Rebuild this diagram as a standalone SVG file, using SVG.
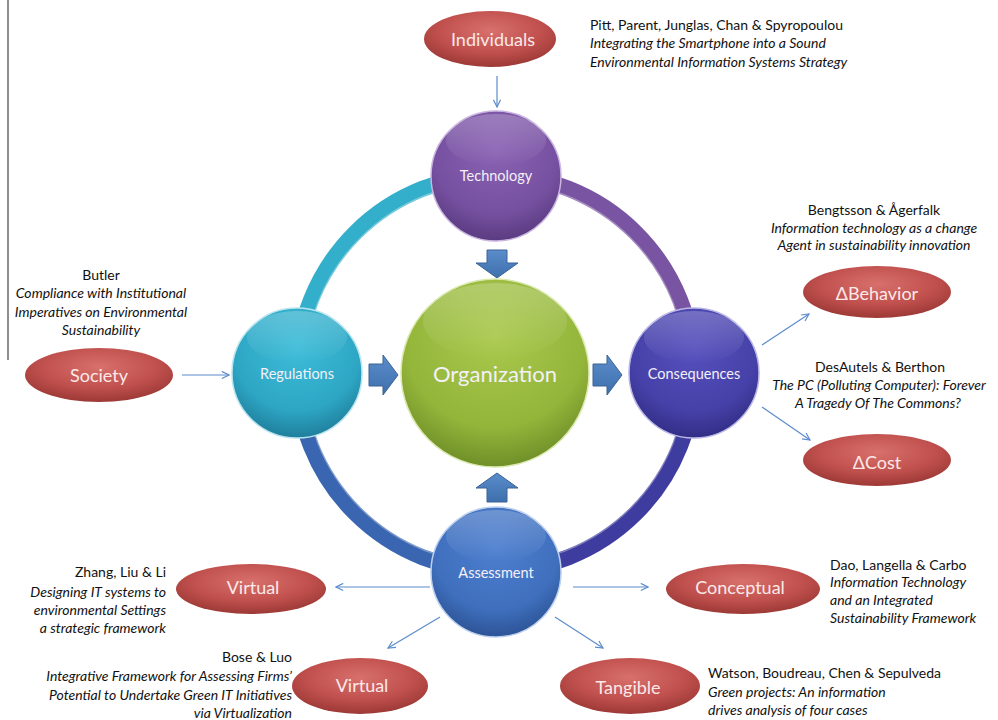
<svg xmlns="http://www.w3.org/2000/svg" width="998" height="720" viewBox="0 0 998 720">
<style>
.ref{font-family:Lato,"Open Sans","Liberation Sans",sans-serif;font-size:14px;fill:#111}
.ref .it{font-style:italic}
.lbl{font-family:Lato,"Open Sans","Liberation Sans",sans-serif;fill:#f4f0f8;text-anchor:middle;dominant-baseline:central}
.sm{font-size:14.5px}
.ov{font-size:18px;fill:#fbe9e9}
.conn line{stroke:#5b8ccb;stroke-width:1.2;fill:none;marker-end:url(#ah)}
.blk{fill:url(#gBlk);stroke:#3a6396;stroke-width:1}
.ring{fill:none;stroke-width:16}
</style>
<defs>
<marker id="ah" viewBox="0 0 10 10" refX="9" refY="5" markerWidth="9" markerHeight="9" orient="auto" markerUnits="userSpaceOnUse">
<path d="M1,1 L9,5 L1,9" fill="none" stroke="#5b8ccb" stroke-width="1.3"/>
</marker>
<radialGradient id="gRed" cx="50%" cy="35%" r="65%">
<stop offset="0" stop-color="#d8706c"/><stop offset="0.6" stop-color="#c0504d"/><stop offset="1" stop-color="#9c3936"/>
</radialGradient>
<radialGradient id="gPur" cx="50%" cy="30%" r="70%">
<stop offset="0" stop-color="#8a62b3"/><stop offset="0.7" stop-color="#7650a0"/><stop offset="1" stop-color="#5a3b80"/>
</radialGradient>
<radialGradient id="gCy" cx="50%" cy="30%" r="70%">
<stop offset="0" stop-color="#3cbcd8"/><stop offset="0.7" stop-color="#2da6c4"/><stop offset="1" stop-color="#1f7f9c"/>
</radialGradient>
<radialGradient id="gGr" cx="50%" cy="30%" r="70%">
<stop offset="0" stop-color="#a9c94c"/><stop offset="0.7" stop-color="#93b53a"/><stop offset="1" stop-color="#6f8f28"/>
</radialGradient>
<radialGradient id="gInd" cx="50%" cy="30%" r="70%">
<stop offset="0" stop-color="#5650bd"/><stop offset="0.7" stop-color="#4641a8"/><stop offset="1" stop-color="#322e86"/>
</radialGradient>
<radialGradient id="gBl" cx="50%" cy="30%" r="70%">
<stop offset="0" stop-color="#4d7fcf"/><stop offset="0.7" stop-color="#3f6fbd"/><stop offset="1" stop-color="#2d5496"/>
</radialGradient>
<linearGradient id="gBlk" x1="0" y1="0" x2="0" y2="1">
<stop offset="0" stop-color="#5a8ccb"/><stop offset="1" stop-color="#3f70ad"/>
</linearGradient>
<linearGradient id="gShine" x1="0" y1="0" x2="0" y2="1">
<stop offset="0" stop-color="#fff" stop-opacity="0.22"/><stop offset="1" stop-color="#fff" stop-opacity="0"/>
</linearGradient>
</defs>
<rect width="998" height="720" fill="#fff"/>
<line x1="8" y1="0" x2="8" y2="360" stroke="#444" stroke-width="1.2"/>

<g id="ring">
<path class="ring" stroke="#33afcb" d="M297,373 A198,198 0 0 1 495.5,175"/>
<path class="ring" stroke="#7954a2" d="M495.5,175 A198,198 0 0 1 694,373"/>
<path class="ring" stroke="#3f3c9f" d="M694,373 A198,198 0 0 1 495.5,571"/>
<path class="ring" stroke="#3a66b1" d="M495.5,571 A198,198 0 0 1 297,373"/>
<circle cx="495.5" cy="373" r="191" fill="none" stroke="#fff" stroke-opacity="0.35" stroke-width="1.5"/>
</g>

<g id="connectors" class="conn">
<line x1="497" y1="76" x2="497" y2="107"/>
<line x1="182" y1="375" x2="229" y2="375"/>
<line x1="762" y1="345" x2="809" y2="314"/>
<line x1="762" y1="407" x2="810" y2="440"/>
<line x1="430" y1="587" x2="336" y2="587"/>
<line x1="440" y1="617" x2="388" y2="648"/>
<line x1="573" y1="587" x2="648" y2="587"/>
<line x1="555" y1="617" x2="603" y2="648"/>
</g>

<g id="blockarrows">
<path class="blk" d="M487,250 H507 V263 H518 L497,278 L476,263 H487 Z"/>
<path class="blk" d="M497,473 L518,488 H507 V502 H487 V488 H476 Z"/>
<path class="blk" d="M369,364 H383 V355 L398,375 L383,395 V386 H369 Z"/>
<path class="blk" d="M593,364 H607 V355 L622,375 L607,395 V386 H593 Z"/>
</g>

<g id="technology">
<circle cx="496" cy="176" r="65" fill="url(#gPur)" stroke="#c9b5e0" stroke-width="1.5"/>
<ellipse cx="496" cy="140" rx="50" ry="26" fill="url(#gShine)"/>
<text class="lbl sm" x="496" y="175">Technology</text>
</g>
<g id="regulations">
<circle cx="297" cy="373" r="65" fill="url(#gCy)" stroke="#b7e4ee" stroke-width="1.5"/>
<ellipse cx="297" cy="337" rx="50" ry="26" fill="url(#gShine)"/>
<text class="lbl sm" x="297" y="373">Regulations</text>
</g>
<g id="consequences">
<circle cx="694" cy="373" r="65" fill="url(#gInd)" stroke="#b9b6e6" stroke-width="1.5"/>
<ellipse cx="694" cy="337" rx="50" ry="26" fill="url(#gShine)"/>
<text class="lbl sm" x="694" y="373">Consequences</text>
</g>
<g id="assessment">
<circle cx="496" cy="572" r="65" fill="url(#gBl)" stroke="#bcd0ee" stroke-width="1.5"/>
<ellipse cx="496" cy="536" rx="50" ry="26" fill="url(#gShine)"/>
<text class="lbl sm" x="496" y="572">Assessment</text>
</g>
<g id="organization">
<circle cx="495" cy="373" r="94" fill="url(#gGr)" stroke="#dbe9b0" stroke-width="1.5"/>
<ellipse cx="495" cy="321" rx="72" ry="38" fill="url(#gShine)"/>
<text class="lbl" x="495" y="373" style="font-size:22px">Organization</text>
</g>

<g id="individuals">
<ellipse cx="490" cy="39" rx="66" ry="28" fill="url(#gRed)"/>
<text class="lbl ov" x="493" y="39">Individuals</text>
</g>
<g id="society">
<ellipse cx="99" cy="375" rx="74" ry="27" fill="url(#gRed)"/>
<text class="lbl ov" x="99" y="375">Society</text>
</g>
<g id="dbehavior">
<ellipse cx="877" cy="292" rx="74" ry="26" fill="url(#gRed)"/>
<text class="lbl ov" x="877" y="293">ΔBehavior</text>
</g>
<g id="dcost">
<ellipse cx="877" cy="460" rx="74" ry="26" fill="url(#gRed)"/>
<text class="lbl ov" x="877" y="462">ΔCost</text>
</g>
<g id="virtual1">
<ellipse cx="251" cy="589" rx="75" ry="25" fill="url(#gRed)"/>
<text class="lbl ov" x="253" y="587">Virtual</text>
</g>
<g id="virtual2">
<ellipse cx="360" cy="686" rx="68" ry="28" fill="url(#gRed)"/>
<text class="lbl ov" x="362" y="685">Virtual</text>
</g>
<g id="conceptual">
<ellipse cx="743" cy="589" rx="77" ry="25" fill="url(#gRed)"/>
<text class="lbl ov" x="740" y="587">Conceptual</text>
</g>
<g id="tangible">
<ellipse cx="630" cy="686" rx="70" ry="28" fill="url(#gRed)"/>
<text class="lbl ov" x="628" y="687">Tangible</text>
</g>

<g id="ref-pitt" class="ref">
<text x="590" y="30">Pitt, Parent, Junglas, Chan &amp; Spyropoulou</text>
<text class="it" x="590" y="48">Integrating the Smartphone into a Sound</text>
<text class="it" x="590" y="67">Environmental Information Systems Strategy</text>
</g>
<g id="ref-butler" class="ref" text-anchor="middle">
<text x="101" y="280">Butler</text>
<text class="it" x="101" y="298">Compliance with Institutional</text>
<text class="it" x="101" y="317">Imperatives on Environmental</text>
<text class="it" x="101" y="335">Sustainability</text>
</g>
<g id="ref-bengtsson" class="ref" text-anchor="middle">
<text x="874" y="215">Bengtsson &amp; Ågerfalk</text>
<text class="it" x="874" y="233">Information technology as a change</text>
<text class="it" x="874" y="250">Agent in sustainability innovation</text>
</g>
<g id="ref-desautels" class="ref" text-anchor="middle">
<text x="880" y="372">DesAutels &amp; Berthon</text>
<text class="it" x="879" y="390">The PC (Polluting Computer): Forever</text>
<text class="it" x="878" y="408">A Tragedy Of The Commons?</text>
</g>
<g id="ref-zhang" class="ref" text-anchor="end">
<text x="166" y="577">Zhang, Liu &amp; Li</text>
<text class="it" x="166" y="597">Designing IT systems to</text>
<text class="it" x="166" y="615">environmental Settings</text>
<text class="it" x="166" y="633">a strategic framework</text>
</g>
<g id="ref-bose" class="ref" text-anchor="end">
<text x="292" y="662">Bose &amp; Luo</text>
<text class="it" x="292" y="681">Integrative Framework for Assessing Firms’</text>
<text class="it" x="292" y="700">Potential to Undertake Green IT Initiatives</text>
<text class="it" x="292" y="718">via Virtualization</text>
</g>
<g id="ref-dao" class="ref">
<text x="830" y="570">Dao, Langella &amp; Carbo</text>
<text class="it" x="830" y="587">Information Technology</text>
<text class="it" x="830" y="605">and an Integrated</text>
<text class="it" x="830" y="623">Sustainability Framework</text>
</g>
<g id="ref-watson" class="ref">
<text x="708" y="678">Watson, Boudreau, Chen &amp; Sepulveda</text>
<text class="it" x="708" y="697">Green projects: An information</text>
<text class="it" x="708" y="715">drives analysis of four cases</text>
</g>
</svg>
